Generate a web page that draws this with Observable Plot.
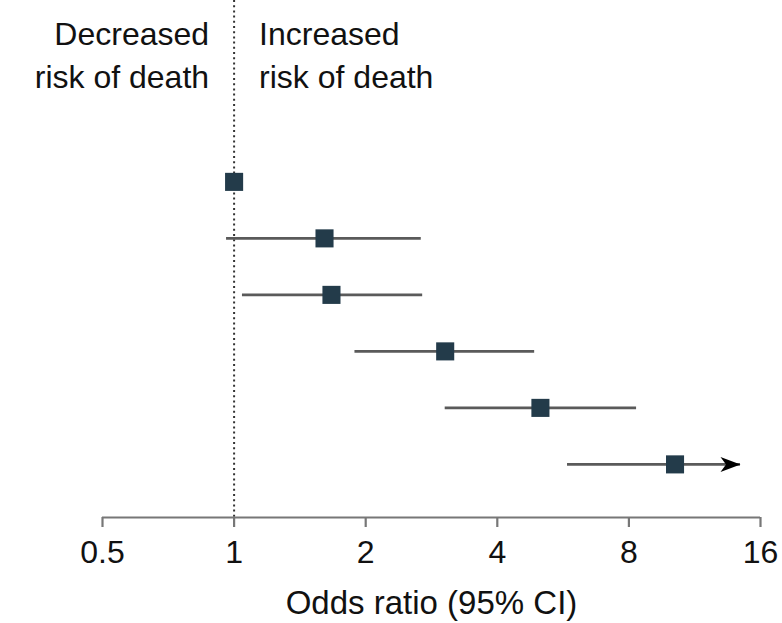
<!DOCTYPE html>
<html>
<head>
<meta charset="utf-8">
<script src="https://cdn.jsdelivr.net/npm/d3@7"></script>
<script src="https://cdn.jsdelivr.net/npm/@observablehq/plot@0.6"></script>
<style>
  html, body { margin: 0; padding: 0; background: #fff; }
  #chart svg { display: block; }
</style>
</head>
<body>
<div id="chart"></div>
<script>
// ---- data ----
const rows      = [1, 2, 3, 4, 5, 6];
const oddsRatio = [1.0, 1.61, 1.67, 3.04, 5.02, 10.2];
const ciLow     = [null, 0.961, 1.045, 1.89, 3.04, 5.79];
const ciHigh    = [null, 2.68, 2.70, 4.87, 8.33, 14.4];
const ciOpen    = [false, false, false, false, false, true];   // upper CI continues past the axis
const xTicks    = [0.5, 1, 2, 4, 8, 16];
const refLine   = [1];
const leftLabel  = ["Decreased\nrisk of death"];
const rightLabel = ["Increased\nrisk of death"];
const xTitle     = ["Odds ratio (95% CI)"];

const table = rows.map((r, i) => ({row: r, or: oddsRatio[i], lo: ciLow[i], hi: ciHigh[i], open: ciOpen[i]}));
const yDomain = [-2.21, 6.94];

// notched right-pointing arrowhead, tip at origin
const arrowHead = {
  draw(ctx, size) {
    const s = Math.sqrt(size / Math.PI);
    ctx.moveTo(0, 0);
    ctx.lineTo(-2 * s, -0.75 * s);
    ctx.lineTo(-1.45 * s, 0);
    ctx.lineTo(-2 * s, 0.75 * s);
    ctx.closePath();
  }
};

const font = "'Liberation Sans', Arial, sans-serif";

const chart = Plot.plot({
  width: 782,
  height: 623,
  marginLeft: 102,
  marginRight: 22,
  marginTop: 0,
  marginBottom: 106,
  style: {fontFamily: font, fontSize: "32px", color: "#111", background: "#fff"},
  x: {type: "log", base: 2, domain: [xTicks[0], xTicks[xTicks.length - 1]]},
  y: {domain: yDomain, reverse: true, axis: null},
  marks: [
    Plot.ruleX(refLine, {x: d => d, stroke: "#333", strokeWidth: 2, strokeDasharray: "2,3.2"}),
    Plot.ruleY([yDomain[1]], {y: d => d, x1: xTicks[0], x2: xTicks[xTicks.length - 1], stroke: "#777", strokeWidth: 2.2}),
    Plot.axisX(xTicks, {tickSize: 10, tickPadding: 13, stroke: "#777", strokeWidth: 2.2, fontSize: 32, fill: "#111", tickFormat: d => String(d), label: null}),
    Plot.text(xTitle, {text: d => d, frameAnchor: "bottom", lineAnchor: "bottom", dy: 96, fontSize: 33, fill: "#111"}),
    Plot.text(leftLabel, {x: refLine[0], text: d => d, frameAnchor: "top", lineAnchor: "top", textAnchor: "end", dx: -25, dy: 14, lineHeight: 1.34, fontSize: 32, fill: "#111"}),
    Plot.text(rightLabel, {x: refLine[0], text: d => d, frameAnchor: "top", lineAnchor: "top", textAnchor: "start", dx: 25, dy: 14, lineHeight: 1.34, fontSize: 32, fill: "#111"}),
    Plot.ruleY(table.filter(d => d.lo != null), {y: "row", x1: "lo", x2: "hi", stroke: "#5a5a5a", strokeWidth: 2.6}),
    Plot.dot(table.filter(d => d.open), {x: "hi", y: "row", symbol: arrowHead, r: 10, fill: "#000", stroke: "none"}),
    Plot.dot(table, {x: "or", y: "row", symbol: "square", r: 10.2, fill: "#233b4a", stroke: "none"})
  ]
});
document.getElementById("chart").appendChild(chart);
</script>
</body>
</html>
